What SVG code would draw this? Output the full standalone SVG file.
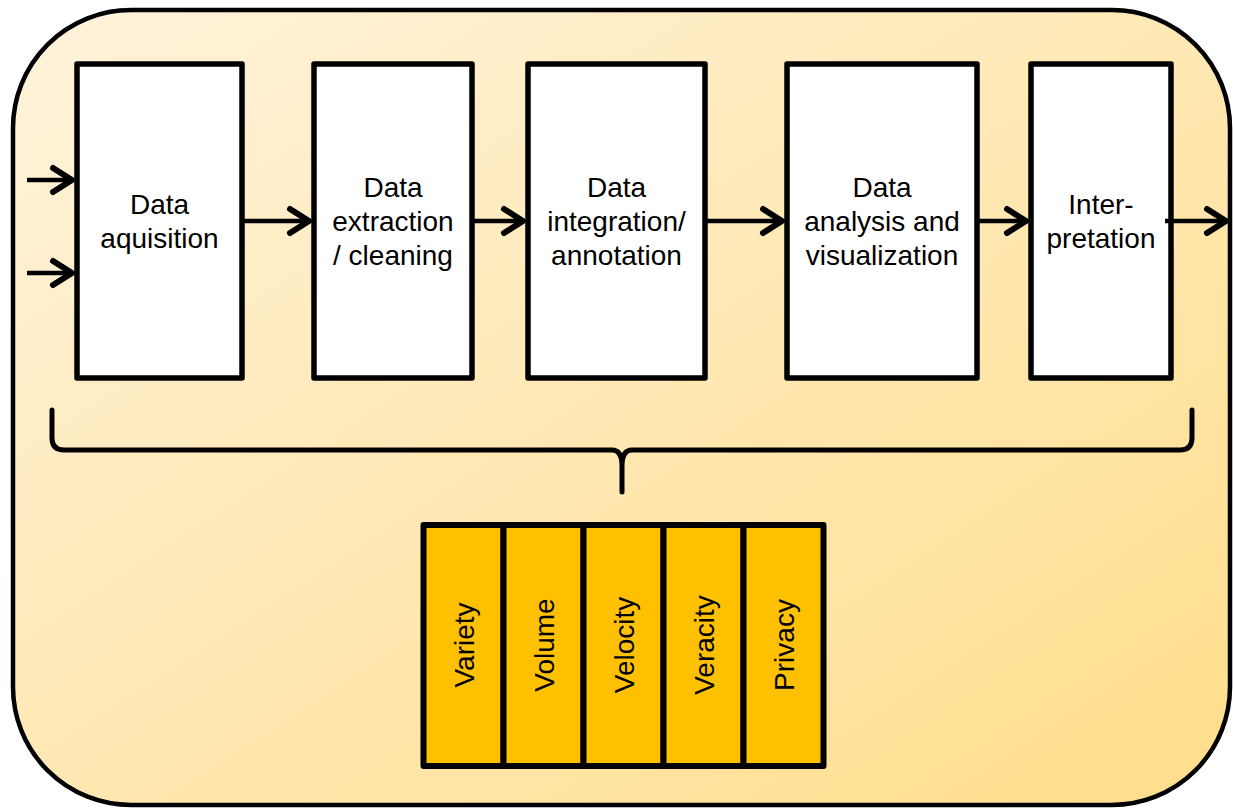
<svg xmlns="http://www.w3.org/2000/svg" width="1233" height="809" viewBox="0 0 1233 809">
  <defs>
    <linearGradient id="panelFill" x1="0" y1="0" x2="1" y2="1">
      <stop offset="0" stop-color="#FFF3DC"/>
      <stop offset="1" stop-color="#FFDD8A"/>
    </linearGradient>
    <marker id="head" markerUnits="userSpaceOnUse" viewBox="-26 -16 30 32" markerWidth="30" markerHeight="32" refX="0" refY="0" orient="auto" overflow="visible">
      <path d="M -19 -12 L 0 0 L -19 12" fill="none" stroke="#000" stroke-width="6" stroke-linecap="round" stroke-linejoin="round"/>
    </marker>
    <style>
      .panel { fill: url(#panelFill); stroke: #000; stroke-width: 4.5; }
      .step { fill: #FFFFFF; stroke: #000; stroke-width: 5.5; stroke-linejoin: round; }
      .v { fill: #FFC000; stroke: #000; stroke-width: 6; stroke-linejoin: round; }
      .label { font-family: "Liberation Sans", Arial, sans-serif; font-size: 28px; fill: #000; text-anchor: middle; }
      .flow { fill: none; stroke: #000; stroke-width: 4.5; marker-end: url(#head); }
      .brace { fill: none; stroke: #000; stroke-width: 5; stroke-linecap: round; stroke-linejoin: round; }
    </style>
  </defs>

  <!-- background panel -->
  <rect class="panel" x="13" y="10" width="1217" height="795" rx="118" ry="118"/>

  <!-- pipeline steps -->
  <g id="step-acquisition">
    <rect class="step" x="77" y="64" width="165" height="314"/>
    <text class="label" x="159.5" y="214">Data</text>
    <text class="label" x="159.5" y="248">aquisition</text>
  </g>
  <g id="step-extraction">
    <rect class="step" x="314" y="64" width="158" height="314"/>
    <text class="label" x="393" y="197">Data</text>
    <text class="label" x="393" y="231">extraction</text>
    <text class="label" x="393" y="265">/ cleaning</text>
  </g>
  <g id="step-integration">
    <rect class="step" x="528" y="64" width="177" height="314"/>
    <text class="label" x="616.5" y="197">Data</text>
    <text class="label" x="616.5" y="231">integration/</text>
    <text class="label" x="616.5" y="265">annotation</text>
  </g>
  <g id="step-analysis">
    <rect class="step" x="787" y="64" width="190" height="314"/>
    <text class="label" x="882" y="197">Data</text>
    <text class="label" x="882" y="231">analysis and</text>
    <text class="label" x="882" y="265">visualization</text>
  </g>
  <g id="step-interpretation">
    <rect class="step" x="1031" y="64" width="140" height="314"/>
    <text class="label" x="1101" y="214">Inter-</text>
    <text class="label" x="1101" y="248">pretation</text>
  </g>

  <!-- connectors -->
  <g id="connectors">
    <line class="flow" x1="27" y1="180" x2="72" y2="180"/>
    <line class="flow" x1="27" y1="273" x2="72" y2="273"/>
    <line class="flow" x1="242" y1="221" x2="309" y2="221"/>
    <line class="flow" x1="472" y1="221" x2="523" y2="221"/>
    <line class="flow" x1="705" y1="221" x2="782" y2="221"/>
    <line class="flow" x1="977" y1="221" x2="1026" y2="221"/>
    <line class="flow" x1="1165" y1="221" x2="1226" y2="221"/>
  </g>

  <!-- curly brace spanning all steps -->
  <path id="brace" class="brace" d="M 52 410 L 52 438 Q 52 450 64 450 L 612 450 Q 622 450 622 466 L 622 492 M 622 466 Q 622 450 632 450 L 1180 450 Q 1192 450 1192 438 L 1192 410"/>

  <!-- data challenges -->
  <g id="v-variety">
    <rect class="v" x="423.5" y="525" width="80" height="241"/>
    <text class="label" transform="translate(463.5,645) rotate(-90)" y="10">Variety</text>
  </g>
  <g id="v-volume">
    <rect class="v" x="503.5" y="525" width="80" height="241"/>
    <text class="label" transform="translate(543.5,645) rotate(-90)" y="10">Volume</text>
  </g>
  <g id="v-velocity">
    <rect class="v" x="583.5" y="525" width="80" height="241"/>
    <text class="label" transform="translate(623.5,645) rotate(-90)" y="10">Velocity</text>
  </g>
  <g id="v-veracity">
    <rect class="v" x="663.5" y="525" width="80" height="241"/>
    <text class="label" transform="translate(703.5,645) rotate(-90)" y="10">Veracity</text>
  </g>
  <g id="v-privacy">
    <rect class="v" x="743.5" y="525" width="80" height="241"/>
    <text class="label" transform="translate(783.5,645) rotate(-90)" y="10">Privacy</text>
  </g>
</svg>
